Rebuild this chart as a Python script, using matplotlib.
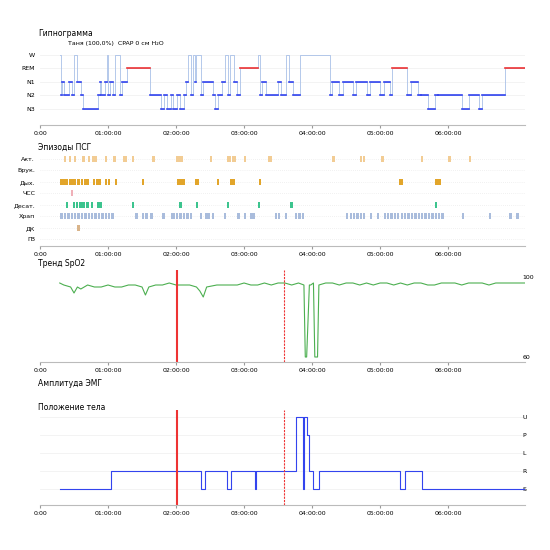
import matplotlib

matplotlib.use("Agg")
import matplotlib.pyplot as plt

plt.rcParams["font.family"] = ["DejaVu Sans"]
plt.rcParams["font.size"] = 5

# --- data (hours from start) ---
HOUR_TICKS = [0, 1, 2, 3, 4, 5, 6]
HOUR_LABELS = ["0:00", "01:00:00", "02:00:00", "03:00:00", "04:00:00", "05:00:00", "06:00:00"]

STAGE_NAMES = ["N3", "N2", "N1", "REM", "W"]
# (start hour, stage index) step segments: 0=N3 1=N2 2=N1 3=REM 4=W
hyp_t = [0.29, 0.31, 0.33, 0.36, 0.42, 0.47, 0.5, 0.55, 0.6, 0.63, 0.85, 0.88, 0.9, 0.95, 0.98, 1.0,
         1.03, 1.08, 1.1, 1.18, 1.2, 1.28, 1.62, 1.78, 1.82, 1.86, 1.92, 1.96, 2.02, 2.06, 2.12, 2.15,
         2.18, 2.22, 2.25, 2.28, 2.3, 2.36, 2.4, 2.55, 2.58, 2.62, 2.68, 2.72, 2.76, 2.8, 2.85, 2.9,
         2.94, 3.2, 3.23, 3.27, 3.32, 3.5, 3.55, 3.62, 3.66, 3.72, 3.82, 4.26, 4.3, 4.4, 4.45, 4.6,
         4.65, 4.8, 4.85, 5.0, 5.05, 5.15, 5.18, 5.4, 5.45, 5.55, 5.6, 5.7, 5.8, 5.85, 6.2, 6.3,
         6.45, 6.5, 6.84, 7.13]
hyp_s = [4, 1, 2, 1, 2, 1, 4, 2, 1, 0, 1, 2, 1, 2, 4, 1,
         2, 1, 4, 1, 2, 3, 1, 0, 1, 0, 1, 0, 1, 0, 1, 2,
         4, 1, 4, 2, 4, 1, 2, 1, 0, 1, 2, 4, 1, 4, 2, 1,
         3, 4, 1, 2, 1, 2, 1, 4, 2, 1, 4, 1, 2, 1, 2, 1,
         2, 1, 2, 1, 2, 1, 3, 1, 2, 1, 1, 0, 1, 1, 0, 1,
         0, 1, 3, 3]

EVENT_ROWS = ["Акт.", "Брук.", "Дых.", "ЧСС", "Десат.", "Храп", "ДК", "ГВ"]
EVENT_COLORS = ["#f2cc94", "#dddddd", "#e2a52a", "#f0b0b8", "#3cc48e", "#a9bcdc", "#d9b48a", "#dddddd"]
events = {
    "Акт.": [0.35, 0.42, 0.5, 0.62, 0.7, 0.76, 0.8, 0.95, 1.08, 1.22, 1.25, 1.35, 1.65, 2.0, 2.03, 2.06,
             2.5, 2.75, 2.78, 2.82, 2.85, 3.0, 3.35, 3.38, 4.3, 4.7, 4.75, 5.02, 5.6, 6.0, 6.3],
    "Брук.": [],
    "Дых.": [0.3, 0.34, 0.38, 0.42, 0.46, 0.5, 0.55, 0.6, 0.64, 0.68, 0.78, 0.82, 0.86, 0.95, 1.0, 1.1,
             1.5, 2.02, 2.06, 2.1, 2.28, 2.3, 2.6, 2.8, 2.83, 3.22, 5.28, 5.3, 5.8, 5.83, 5.86],
    "ЧСС": [0.45],
    "Десат.": [0.38, 0.48, 0.53, 0.58, 0.62, 0.68, 0.75, 0.84, 0.88, 1.35, 2.05, 2.29, 2.75, 3.2, 3.68, 5.8],
    "Храп": [0.3, 0.35, 0.4, 0.45, 0.5, 0.55, 0.6, 0.65, 0.7, 0.75, 0.8, 0.85, 0.9, 0.95, 1.0, 1.05,
             1.4, 1.5, 1.55, 1.62, 1.8, 1.92, 1.95, 2.0, 2.05, 2.1, 2.15, 2.2, 2.35, 2.42, 2.46, 2.53,
             2.7, 2.9, 3.0, 3.08, 3.12, 3.45, 3.5, 3.6, 3.75, 3.8, 3.85, 4.5, 4.55, 4.6, 4.65, 4.7,
             4.75, 4.85, 4.95, 5.05, 5.1, 5.15, 5.2, 5.25, 5.3, 5.35, 5.4, 5.45, 5.5, 5.55, 5.6, 5.65,
             5.7, 5.75, 5.8, 5.85, 5.9, 6.2, 6.6, 6.9, 7.0],
    "ДК": [0.55],
    "ГВ": [],
}

spo2_t = [0.29, 0.35, 0.45, 0.5, 0.55, 0.6, 0.7, 0.8, 0.9, 1.0, 1.1, 1.2, 1.3, 1.4, 1.5, 1.55, 1.6,
          1.7, 1.8, 1.9, 2.0, 2.1, 2.2, 2.3, 2.35, 2.4, 2.45, 2.6, 2.7, 2.8, 2.9, 3.0, 3.1, 3.2, 3.3,
          3.4, 3.5, 3.6, 3.7, 3.8, 3.88, 3.9, 3.92, 3.96, 3.98, 4.02, 4.04, 4.08, 4.1, 4.2, 4.3,
          4.4, 4.5, 4.6, 4.7, 4.8, 4.9, 5.0, 5.1, 5.2, 5.3, 5.4, 5.5, 5.6, 5.7, 5.8, 5.9, 6.0,
          6.1, 6.2, 6.3, 6.4, 6.5, 6.6, 6.7, 6.8, 6.9, 7.0, 7.13]
spo2_v = [97, 96, 95, 92, 95, 94, 96, 95, 95, 96, 95, 95, 96, 96, 95, 91, 95,
          96, 96, 97, 96, 96, 96, 95, 93, 90, 95, 96, 96, 96, 96, 97, 96, 96, 97,
          96, 97, 97, 96, 97, 96, 60, 60, 96, 96, 97, 60, 60, 96, 97, 97,
          96, 97, 97, 96, 97, 96, 97, 97, 96, 97, 96, 97, 97, 96, 96, 97, 97,
          97, 96, 97, 97, 97, 96, 97, 97, 97, 97, 97]

POS_NAMES = ["S", "R", "L", "P", "U"]
pos_t = [0.29, 1.04, 2.37, 2.43, 2.75, 2.81, 3.16, 3.18, 3.76, 3.86, 3.88, 3.93, 3.96, 4.02, 4.1,
         5.29, 5.37, 5.62, 7.13]
pos_s = [0, 1, 0, 1, 0, 1, 0, 1, 4, 0, 4, 3, 1, 0, 1,
         0, 1, 0, 0]

MARKERS = [2.02, 3.58]

LEFT, WIDTH = 40 / 550, 485 / 550
XMAX = 7.13


def axes_px(top, bottom):
    return fig.add_axes([LEFT, 1 - bottom / 550, WIDTH, (bottom - top) / 550])


def style_time_axis(ax):
    ax.set_xlim(0, XMAX)
    for s in ["top", "right", "left"]:
        ax.spines[s].set_visible(False)
    ax.spines["bottom"].set_color("#bbbbbb")
    ax.set_xticks(HOUR_TICKS)
    ax.set_xticklabels(HOUR_LABELS, fontsize=4.5)
    ax.tick_params(axis="x", length=2, color="#999999", pad=2)
    ax.tick_params(axis="y", length=0)


fig = plt.figure(figsize=(5.5, 5.5), dpi=100)

# Hypnogram
ax = axes_px(48, 125)
style_time_axis(ax)
ax.set_ylim(-1.2, 4.5)
for y in range(5):
    ax.axhline(y, color="#eeeeee", lw=0.5, zorder=0)
ax.step(hyp_t, hyp_s, where="post", color="#a8c0e8", lw=0.6)
for i in range(len(hyp_t) - 1):
    c = "#ee3333" if hyp_s[i] == 3 else "#3344ee"
    if hyp_s[i] != 4:
        ax.plot([hyp_t[i], hyp_t[i + 1]], [hyp_s[i], hyp_s[i]], color=c, lw=1.2)
ax.set_yticks(range(5))
ax.set_yticklabels(STAGE_NAMES, fontsize=4.5)
fig.text(38 / 550, 1 - 33 / 550, "Гипнограмма", fontsize=5.5, va="center")
fig.text(68 / 550, 1 - 44 / 550, "Таня (100,0%)  CPAP 0 см H₂O", fontsize=4.5, va="center")

# PSG episodes
ax = axes_px(152, 246)
style_time_axis(ax)
n = len(EVENT_ROWS)
ax.set_ylim(n - 0.4, -0.6)
for i, name in enumerate(EVENT_ROWS):
    ax.axhline(i, color="#e4e4e4", lw=0.5, ls=(0, (1, 2)), zorder=0)
    for t in events[name]:
        ax.barh(i, 0.035, left=t, height=0.55, color=EVENT_COLORS[i], lw=0)
ax.set_yticks(range(n))
ax.set_yticklabels(EVENT_ROWS, fontsize=4.5)
fig.text(38 / 550, 1 - 147 / 550, "Эпизоды ПСГ", fontsize=5.5, va="center")

# SpO2 trend
ax = axes_px(270, 362)
style_time_axis(ax)
ax.set_ylim(57.5, 103.5)
ax.plot(spo2_t, spo2_v, color="#4caf50", lw=0.8)
ax.yaxis.tick_right()
ax.set_yticks([60, 100])
ax.tick_params(axis="y", labelsize=4.5, pad=-2)
for x, (lw, ls) in zip(MARKERS, [(1.5, "-"), (0.8, (0, (2, 1)))]):
    ax.axvline(x, color="#ee3333", lw=lw, ls=ls)
fig.text(38 / 550, 1 - 263 / 550, "Тренд SpO2", fontsize=5.5, va="center")

fig.text(38 / 550, 1 - 383 / 550, "Амплитуда ЭМГ", fontsize=5.5, va="center")

# Body position
ax = axes_px(410, 505)
style_time_axis(ax)
ax.set_ylim(-0.9, 4.4)
for y in range(5):
    ax.axhline(y, color="#eeeeee", lw=0.5, zorder=0)
ax.step(pos_t, pos_s, where="post", color="#3344ee", lw=0.8)
ax.yaxis.tick_right()
ax.set_yticks(range(5))
ax.set_yticklabels(POS_NAMES, fontsize=4.5)
ax.tick_params(axis="y", pad=-2)
for x, (lw, ls) in zip(MARKERS, [(1.5, "-"), (0.8, (0, (2, 1)))]):
    ax.axvline(x, color="#ee3333", lw=lw, ls=ls)
fig.text(38 / 550, 1 - 408 / 550, "Положение тела", fontsize=5.5, va="center")

fig.savefig("out.png", dpi=100)
